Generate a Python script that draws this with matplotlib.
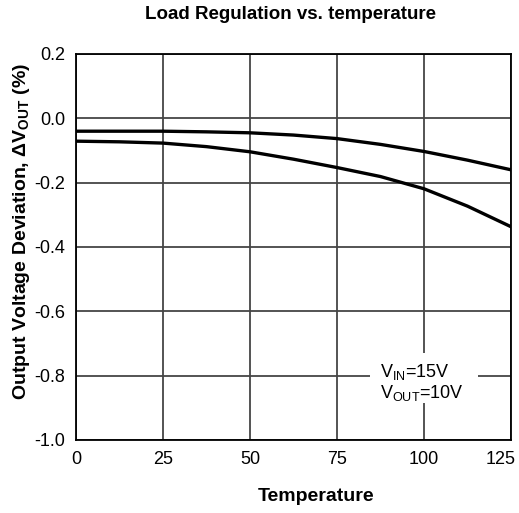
import matplotlib
matplotlib.use("Agg")
import matplotlib.pyplot as plt
from matplotlib.patches import Rectangle
from matplotlib.transforms import ScaledTranslation

plt.rcParams['font.family'] = ['Liberation Sans', 'DejaVu Sans']
plt.rcParams['mathtext.default'] = 'regular'

temps = [0, 12.5, 25, 37.5, 50, 62.5, 75, 87.5, 100, 112.5, 125]
upper = [-0.040, -0.040, -0.040, -0.042, -0.045, -0.052, -0.063, -0.081, -0.103, -0.130, -0.160]
lower = [-0.071, -0.073, -0.077, -0.088, -0.104, -0.127, -0.153, -0.181, -0.219, -0.273, -0.337]

xticks = [0, 25, 50, 75, 100, 125]
yticks = [-1.0, -0.8, -0.6, -0.4, -0.2, 0.0, 0.2]
ylabels = ['-1.0', '-0.8', '-0.6', '-0.4', '-0.2', '0.0', '0.2']

fig = plt.figure(figsize=(5.19, 5.13), dpi=100)
ax = fig.add_axes([76/519, 1-440/513, (511-76)/519, (440-54)/513])

ax.plot(temps, upper, color='black', lw=2.4, zorder=3)
ax.plot(temps, lower, color='black', lw=2.4, zorder=3)

ax.set_xlim(0, 125)
ax.set_ylim(-1.0, 0.2)
ax.set_xticks(xticks)
ax.set_yticks(yticks)
ax.set_yticklabels(ylabels)
ax.tick_params(length=0, labelsize=13, pad=8)
ax.grid(True, color='#454545', lw=1.3)
for s in ax.spines.values():
    s.set_color('black')
    s.set_linewidth(1.3)

last = ax.get_xticklabels()[-1]
last.set_horizontalalignment('right')
last.set_transform(last.get_transform() + ScaledTranslation(5/100, 0, fig.dpi_scale_trans))

# white box behind annotation
ax.add_patch(Rectangle((84.5, -0.886), 31.0, 0.156, facecolor='white', edgecolor='none', zorder=2.5))
ax.text(87.4, -0.79, r'V$_{IN}$=15V', fontsize=13, ha='left', va='center', zorder=4)
ax.text(87.4, -0.855, r'V$_{OUT}$=10V', fontsize=13, ha='left', va='center', zorder=4)

fig.text(0.559, 0.971, 'Load Regulation vs. temperature', fontsize=13.5, fontweight='bold', ha='center', va='center')
fig.text(0.609, 0.033, 'Temperature', fontsize=14, fontweight='bold', ha='center', va='center')
fig.text(0.042, 0.548, r'Output Voltage Deviation, $\Delta$V$_{OUT}$ (%)', fontsize=14, fontweight='bold',
         rotation=90, ha='center', va='center')

fig.savefig('out.png', dpi=100)
